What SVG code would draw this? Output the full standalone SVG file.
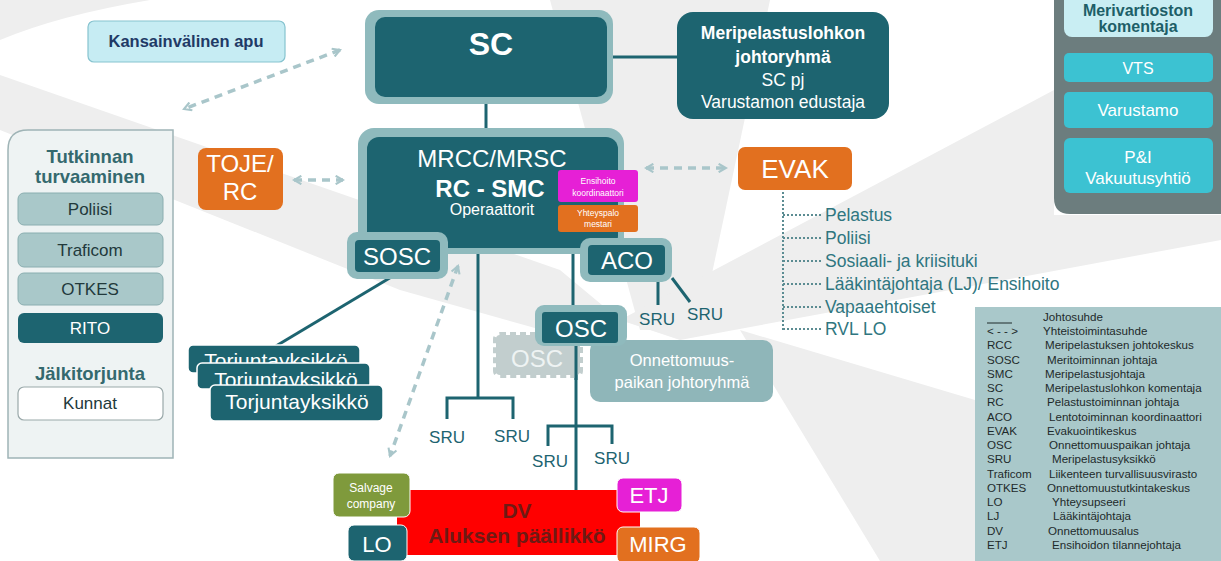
<svg xmlns="http://www.w3.org/2000/svg" width="1221" height="561" viewBox="0 0 1221 561">
<defs>
<style>
text{font-family:"Liberation Sans",Arial,sans-serif}
.bg{fill:#eeeeee}
.dark{fill:#1d6470}
.frame{fill:#8fbabd}
.w{fill:#ffffff}
.c{text-anchor:middle}
.b{font-weight:bold}
.conn{stroke:#1d6470;stroke-width:3;fill:none}
.dash{stroke:#a9c6ca;stroke-width:3.5;fill:none;stroke-dasharray:8 6;marker-start:url(#ah);marker-end:url(#ah)}
.evl{stroke:#5b8c92;stroke-width:2;stroke-dasharray:2 2;fill:none}
.evt{fill:#2f7680;font-size:17.5px}
.lg{font-size:11.6px;fill:#1e2a2b}
.lp{fill:#a9c8c9;stroke:#8aaeb0;stroke-width:1}
</style>
<marker id="ah" viewBox="0 0 10 10" refX="8" refY="5" markerWidth="3" markerHeight="3" orient="auto-start-reverse" markerUnits="strokeWidth">
<path d="M1,1 L8,5 L1,9" fill="none" stroke="#a9c6ca" stroke-width="2"/>
</marker>
</defs>
<rect width="1221" height="561" fill="#ffffff"/>
<g id="background">
<path class="bg" d="M0,0 L150,0 Q60,15 0,40 Z"/>
<path class="bg" d="M0,75 L560,270 L620,320 L560,335 L400,290 L0,130 Z"/>
<path class="bg" d="M550,0 L770,0 L700,330 L640,330 Z"/>
<path class="bg" d="M620,320 L1054,90 L1054,215 L1221,215 L1221,240 L680,340 Z"/>
<path class="bg" d="M740,330 L975,400 L975,561 L880,561 Z"/>
</g>

<g id="connectors">
<line class="conn" x1="612" y1="57" x2="678" y2="57"/>
<line class="conn" x1="486" y1="103" x2="486" y2="132"/>
<line class="conn" x1="393" y1="276" x2="276" y2="346"/>
<polyline class="conn" points="478,253 478,398"/>
<polyline class="conn" points="447,419 447,398 513,398 513,419"/>
<line class="conn" x1="573" y1="253" x2="573" y2="306"/>
<line class="conn" x1="576" y1="343" x2="576" y2="491"/>
<polyline class="conn" points="548,446 548,426 612,426 612,444"/>
<line class="conn" x1="658" y1="281" x2="658" y2="305"/>
<line class="conn" x1="672" y1="278" x2="690" y2="302"/>
<line class="dash" x1="340" y1="50" x2="184" y2="109"/>
<line class="dash" x1="294" y1="180" x2="343" y2="180"/>
<line class="dash" x1="646" y1="168" x2="726" y2="168"/>
<line class="dash" x1="458" y1="266" x2="390" y2="456"/>
<path class="evl" d="M783,192 V330 M783,215 H822 M783,238 H822 M783,261 H822 M783,284 H822 M783,307 H822 M783,329 H822"/>
<path d="M1139,37 V53 M1139,82 V92 M1139,128 V138" stroke="#c8d6d8" stroke-width="2"/>
</g>

<g id="kansainvalinen">
<rect x="88" y="21" width="197" height="41" rx="6" fill="#c6ecf3" stroke="#86c3cf" stroke-width="1.2"/>
<text x="186" y="47" class="c b" font-size="16.5" fill="#1f3a66">Kansainvälinen apu</text>
</g>

<g id="sc">
<rect x="365" y="10" width="248" height="94" rx="14" class="frame"/>
<rect x="375" y="17" width="232" height="80" rx="10" class="dark"/>
<text x="491" y="55" class="c b w" font-size="32">SC</text>
</g>

<g id="johtoryhma">
<rect x="677" y="12" width="212" height="107" rx="16" class="dark"/>
<text x="783" y="39" class="c b w" font-size="17.5">Meripelastuslohkon</text>
<text x="783" y="63" class="c b w" font-size="17.5">johtoryhmä</text>
<text x="783" y="86" class="c w" font-size="17.5">SC pj</text>
<text x="783" y="108" class="c w" font-size="17.5">Varustamon edustaja</text>
</g>

<g id="right-panel">
<path d="M1054,0 H1221 V214 H1070 Q1054,214 1054,198 Z" fill="#6c7d7e"/>
<rect x="1064" y="-8" width="149" height="45" rx="8" fill="#c9eef3"/>
<text x="1138" y="16" class="c b" font-size="16" fill="#1d5f68">Merivartioston</text>
<text x="1138" y="32" class="c b" font-size="16" fill="#1d5f68">komentaja</text>
<rect x="1064" y="53" width="149" height="29" rx="5" fill="#3cc2d2"/>
<text x="1138" y="74" class="c w" font-size="16">VTS</text>
<rect x="1064" y="92" width="149" height="36" rx="5" fill="#3cc2d2"/>
<text x="1138" y="116" class="c w" font-size="17">Varustamo</text>
<rect x="1064" y="138" width="149" height="55" rx="6" fill="#3cc2d2"/>
<text x="1138" y="163" class="c w" font-size="17">P&amp;I</text>
<text x="1138" y="184" class="c w" font-size="17">Vakuutusyhtiö</text>
</g>

<g id="left-panel">
<path d="M8,458 V150 Q8,130 28,130 H173 V458 Z" fill="#eef3f3" stroke="#9fb4b6" stroke-width="1.5"/>
<text x="90" y="163" class="c b" font-size="18.5" fill="#34696e">Tutkinnan</text>
<text x="90" y="183" class="c b" font-size="18.5" fill="#34696e">turvaaminen</text>
<rect x="18" y="193" width="145" height="32" rx="6" class="lp"/>
<text x="90" y="215" class="c" font-size="17" fill="#22393b">Poliisi</text>
<rect x="18" y="233" width="145" height="34" rx="6" class="lp"/>
<text x="90" y="256" class="c" font-size="17" fill="#22393b">Traficom</text>
<rect x="18" y="273" width="145" height="32" rx="6" class="lp"/>
<text x="90" y="295" class="c" font-size="17" fill="#22393b">OTKES</text>
<rect x="18" y="313" width="145" height="30" rx="6" class="dark"/>
<text x="90" y="334" class="c w" font-size="17">RITO</text>
<text x="90" y="380" class="c b" font-size="18.5" fill="#34696e">Jälkitorjunta</text>
<rect x="18" y="387" width="145" height="33" rx="6" fill="#ffffff" stroke="#9aa9aa" stroke-width="1.2"/>
<text x="90" y="409" class="c" font-size="17" fill="#22393b">Kunnat</text>
</g>

<g id="toje">
<rect x="198" y="148" width="85" height="62" rx="8" fill="#e2701f"/>
<text x="240" y="172" class="c w" font-size="24">TOJE/</text>
<text x="240" y="200" class="c w" font-size="24">RC</text>
</g>

<g id="mrcc">
<rect x="358" y="128" width="266" height="126" rx="16" class="frame"/>
<rect x="367" y="137" width="251" height="111" rx="12" class="dark"/>
<text x="492" y="167" class="c w" font-size="24">MRCC/MRSC</text>
<text x="490" y="197" class="c b w" font-size="24">RC - SMC</text>
<text x="492" y="215" class="c w" font-size="16">Operaattorit</text>
</g>

<g id="ensihoito">
<rect x="558" y="170" width="80" height="32" rx="3" fill="#e620d6"/>
<text x="598" y="184" class="c w" font-size="8.5">Ensihoito</text>
<text x="598" y="196" class="c w" font-size="8.5">koordinaattori</text>
</g>
<g id="yhteyspalo">
<rect x="558" y="205" width="80" height="27" rx="3" fill="#e2701f"/>
<text x="598" y="216" class="c w" font-size="8.5">Yhteyspalo</text>
<text x="598" y="227" class="c w" font-size="8.5">mestari</text>
</g>

<g id="sosc">
<rect x="347" y="232" width="101" height="47" rx="10" class="frame"/>
<rect x="355" y="240" width="85" height="32" rx="4" class="dark"/>
<text x="397" y="265" class="c w" font-size="24">SOSC</text>
</g>

<g id="aco">
<rect x="580" y="238" width="92" height="44" rx="10" class="frame"/>
<rect x="588" y="245" width="77" height="30" rx="4" class="dark"/>
<text x="627" y="269" class="c w" font-size="24">ACO</text>
</g>

<g id="sru-labels" fill="#1d6470" font-size="17">
<text x="657" y="325" class="c">SRU</text>
<text x="705" y="320" class="c">SRU</text>
<text x="447" y="443" class="c">SRU</text>
<text x="512" y="442" class="c">SRU</text>
<text x="550" y="467" class="c">SRU</text>
<text x="612" y="464" class="c">SRU</text>
</g>

<g id="osc-ghost">
<rect x="496" y="335" width="84" height="40" rx="4" fill="#c2cece" stroke="#c2cece" stroke-width="6" stroke-dasharray="6 4"/>
<text x="537" y="367" class="c" font-size="24" fill="#eef3f3">OSC</text>
</g>

<g id="onnettomuus">
<rect x="590" y="340" width="183" height="62" rx="10" fill="#8fb6b9"/>
<text x="682" y="366" class="c w" font-size="16.5">Onnettomuus-</text>
<text x="682" y="388" class="c w" font-size="16.5">paikan johtoryhmä</text>
</g>

<g id="osc">
<rect x="535" y="305" width="92" height="41" rx="9" class="frame"/>
<rect x="542" y="312" width="76" height="31" rx="3" class="dark"/>
<text x="581" y="337" class="c w" font-size="24">OSC</text>
</g>
<line class="conn" x1="576" y1="346" x2="576" y2="380"/>

<g id="torjunta">
<rect x="188" y="345" width="172" height="28" rx="5" class="dark" stroke="#ffffff" stroke-width="1.5"/>
<text x="276" y="368" class="c w" font-size="21">Torjuntayksikkö</text>
<rect x="197" y="363" width="173" height="26" rx="5" class="dark" stroke="#ffffff" stroke-width="1.5"/>
<text x="286" y="387" class="c w" font-size="21">Torjuntayksikkö</text>
<rect x="210" y="385" width="173" height="36" rx="5" class="dark" stroke="#ffffff" stroke-width="1.5"/>
<text x="297" y="409" class="c w" font-size="21">Torjuntayksikkö</text>
</g>

<g id="dv">
<rect x="397" y="490" width="243" height="65" fill="#ff0000"/>
<text x="517" y="518" class="c b" font-size="21" fill="#6e1a14">DV</text>
<text x="517" y="543" class="c b" font-size="21" fill="#6e1a14">Aluksen päällikkö</text>
</g>
<g id="salvage">
<rect x="333" y="473" width="77" height="44" rx="6" fill="#7f9a3c" stroke="#ffffff" stroke-width="1"/>
<text x="371" y="492" class="c w" font-size="12">Salvage</text>
<text x="371" y="508" class="c w" font-size="12">company</text>
</g>
<g id="lo">
<rect x="348" y="525" width="59" height="36" rx="6" class="dark" stroke="#ffffff" stroke-width="1"/>
<text x="377" y="552" class="c w" font-size="22">LO</text>
</g>
<g id="etj">
<rect x="617" y="478" width="65" height="34" rx="6" fill="#e620d6" stroke="#ffffff" stroke-width="1"/>
<text x="649" y="503" class="c w" font-size="22">ETJ</text>
</g>
<g id="mirg">
<rect x="617" y="527" width="83" height="36" rx="6" fill="#e2701f" stroke="#ffffff" stroke-width="1"/>
<text x="658" y="552" class="c w" font-size="22">MIRG</text>
</g>

<g id="evak">
<rect x="738" y="147" width="114" height="43" rx="7" fill="#e2701f"/>
<text x="795" y="178" class="c w" font-size="26">EVAK</text>
<text x="825" y="221" class="evt">Pelastus</text>
<text x="825" y="244" class="evt">Poliisi</text>
<text x="825" y="267" class="evt">Sosiaali- ja kriisituki</text>
<text x="825" y="290" class="evt">Lääkintäjohtaja  (LJ)/ Ensihoito</text>
<text x="825" y="313" class="evt">Vapaaehtoiset</text>
<text x="825" y="335" class="evt">RVL LO</text>
</g>

<g id="legend">
<rect x="975" y="307" width="246" height="254" fill="#a9c8ca"/>
<line x1="987" y1="323" x2="1012" y2="323" stroke="#1e2a2b" stroke-width="1"/>
<text x="1043" y="321" class="lg">Johtosuhde</text>
<text x="987" y="335" class="lg" font-size="8">&lt; - - &gt;</text>
<text x="1043" y="335" class="lg">Yhteistoimintasuhde</text>
<text x="987" y="349" class="lg">RCC</text><text x="1045" y="349" class="lg">Meripelastuksen johtokeskus</text>
<text x="987" y="364" class="lg">SOSC</text><text x="1047" y="364" class="lg">Meritoiminnan johtaja</text>
<text x="987" y="378" class="lg">SMC</text><text x="1045" y="378" class="lg">Meripelastusjohtaja</text>
<text x="987" y="392" class="lg">SC</text><text x="1045" y="392" class="lg">Meripelastuslohkon komentaja</text>
<text x="987" y="406" class="lg">RC</text><text x="1047" y="406" class="lg">Pelastustoiminnan johtaja</text>
<text x="987" y="421" class="lg">ACO</text><text x="1049" y="421" class="lg">Lentotoiminnan koordinaattori</text>
<text x="987" y="435" class="lg">EVAK</text><text x="1047" y="435" class="lg">Evakuointikeskus</text>
<text x="987" y="449" class="lg">OSC</text><text x="1049" y="449" class="lg">Onnettomuuspaikan johtaja</text>
<text x="987" y="463" class="lg">SRU</text><text x="1052" y="463" class="lg">Meripelastusyksikkö</text>
<text x="987" y="478" class="lg">Traficom</text><text x="1049" y="478" class="lg">Liikenteen turvallisuusvirasto</text>
<text x="987" y="492" class="lg">OTKES</text><text x="1047" y="492" class="lg">Onnettomuustutkintakeskus</text>
<text x="987" y="506" class="lg">LO</text><text x="1052" y="506" class="lg">Yhteysupseeri</text>
<text x="987" y="520" class="lg">LJ</text><text x="1053" y="520" class="lg">Lääkintäjohtaja</text>
<text x="987" y="535" class="lg">DV</text><text x="1048" y="535" class="lg">Onnettomuusalus</text>
<text x="987" y="549" class="lg">ETJ</text><text x="1052" y="549" class="lg">Ensihoidon tilannejohtaja</text>
</g>
</svg>
